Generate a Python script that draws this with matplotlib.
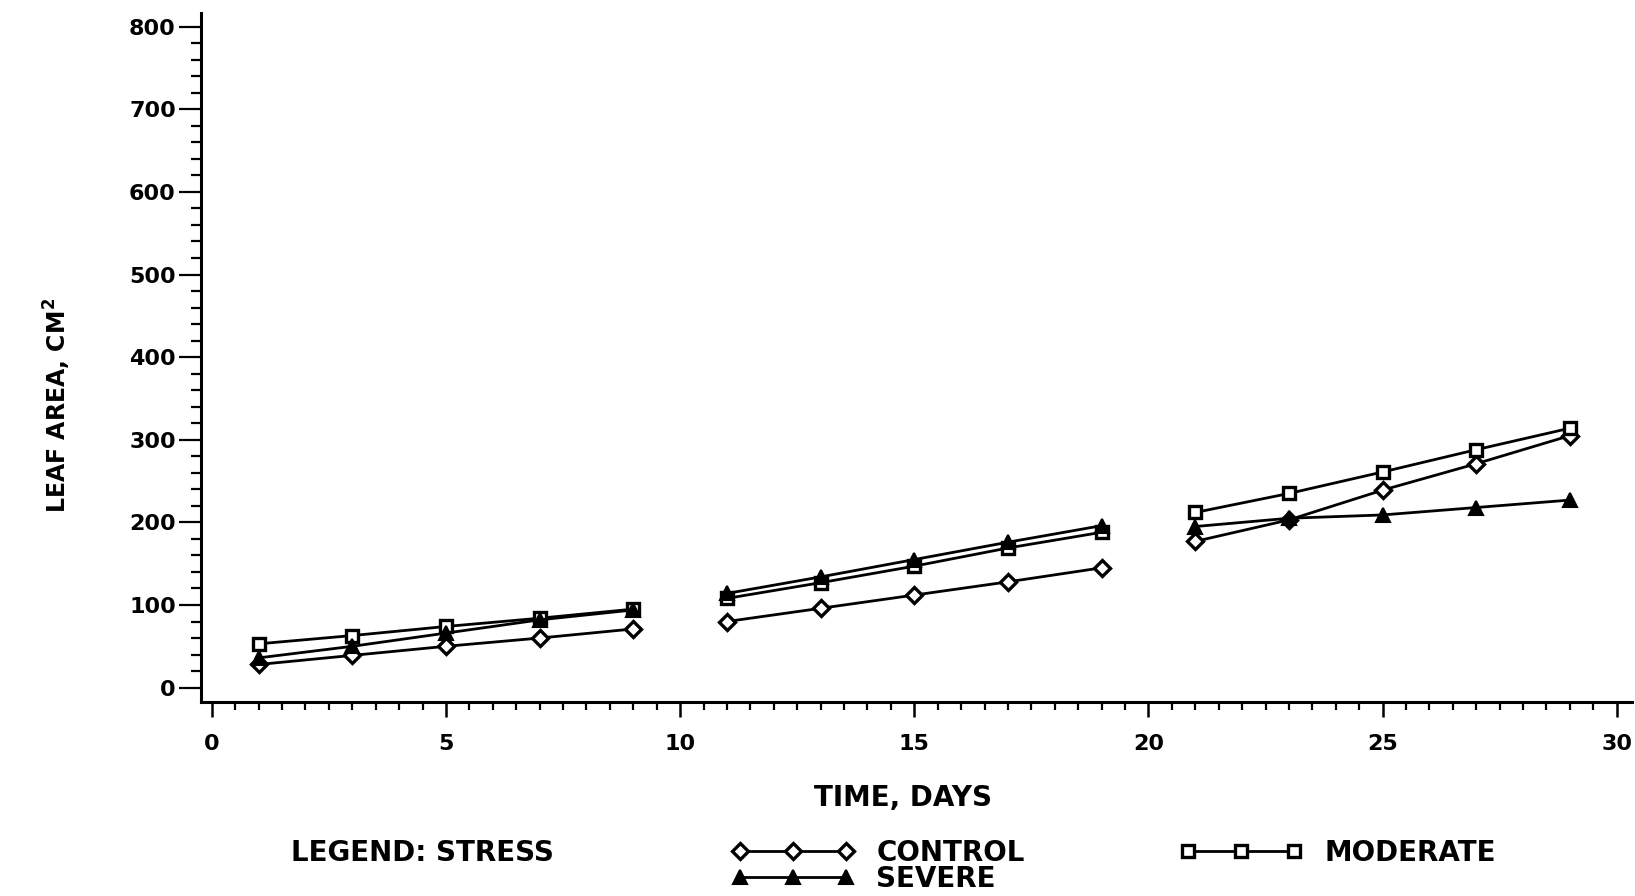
import matplotlib
matplotlib.use("Agg")
import matplotlib.pyplot as plt
import matplotlib.ticker as ticker
import numpy as np

# leaf area (cm^2); three separate periods of 5 readings
days = [1, 3, 5, 7, 9, 11, 13, 15, 17, 19, 21, 23, 25, 27, 29]
control = [28, 39, 50, 60, 71, 80, 96, 112, 128, 145, 177, 203, 239, 271, 305]
moderate = [53, 63, 74, 84, 95, 108, 127, 147, 169, 188, 212, 235, 261, 288, 314]
severe = [36, 50, 66, 82, 94, 114, 134, 155, 176, 196, 195, 205, 209, 218, 227]
periods = [(0, 5), (5, 10), (10, 15)]

y_ticks = list(range(0, 801, 100))
x_ticks = list(range(0, 31, 5))

plt.rcParams["font.family"] = ["DejaVu Sans"]

fig = plt.figure(figsize=(16.35, 8.96), dpi=100)
ax = fig.add_axes([0.1228, 0.2169, 0.8752, 0.7690])

styles = {
    "CONTROL": dict(marker="D", ms=8, mfc="white", mec="black", mew=2.4),
    "MODERATE": dict(marker="s", ms=9, mfc="white", mec="black", mew=2.4),
    "SEVERE": dict(marker="^", ms=10, mfc="black", mec="black", mew=1.5),
}
series = {"CONTROL": control, "MODERATE": moderate, "SEVERE": severe}
handles = {}
for name, vals in series.items():
    for i, (a, b) in enumerate(periods):
        (ln,) = ax.plot(days[a:b], vals[a:b], color="black", lw=2.0,
                        label=name if i == 0 else None, **styles[name])
        if i == 0:
            handles[name] = ln

ax.set_xlim(-0.235, 30.32)
ax.set_ylim(-17, 817)

ax.xaxis.set_major_locator(ticker.FixedLocator(x_ticks))
ax.xaxis.set_minor_locator(ticker.MultipleLocator(0.5))
ax.yaxis.set_major_locator(ticker.FixedLocator(y_ticks))
ax.yaxis.set_minor_locator(ticker.MultipleLocator(20))

for side in ("top", "right"):
    ax.spines[side].set_visible(False)
for side in ("left", "bottom"):
    ax.spines[side].set_linewidth(2.2)

ax.tick_params(axis="y", which="major", direction="out", length=16, width=1.6,
               pad=2, labelsize=16)
ax.tick_params(axis="y", which="minor", direction="out", length=7, width=1.6)
ax.tick_params(axis="x", which="major", direction="out", length=11, width=1.8,
               pad=12, labelsize=16)
ax.tick_params(axis="x", which="minor", direction="out", length=6, width=1.6)
for lab in ax.get_xticklabels() + ax.get_yticklabels():
    lab.set_fontweight("bold")

ax.set_ylabel("LEAF AREA, CM$^{\\mathbf{2}}$", fontsize=17, fontweight="bold")
ax.yaxis.set_label_coords(-0.089, 0.43)
fig.text(0.552, 0.109, "TIME, DAYS", fontsize=20, fontweight="bold",
         ha="center", va="center")
fig.text(0.178, 0.048, "LEGEND: STRESS", fontsize=20, fontweight="bold",
         ha="left", va="center")

leg_kw = dict(frameon=False, numpoints=3, handlelength=4.4, handletextpad=0.8,
              borderpad=0, borderaxespad=0, loc="center left",
              prop=dict(size=20, weight="bold"))
entries = [("CONTROL", 0.4477, 0.048), ("SEVERE", 0.4477, 0.019),
           ("MODERATE", 0.7217, 0.048)]
for name, lx, ly in entries:
    leg = fig.legend([handles[name]], [name], bbox_to_anchor=(lx, ly), **leg_kw)

fig.savefig("out.png", dpi=100, facecolor="white")
